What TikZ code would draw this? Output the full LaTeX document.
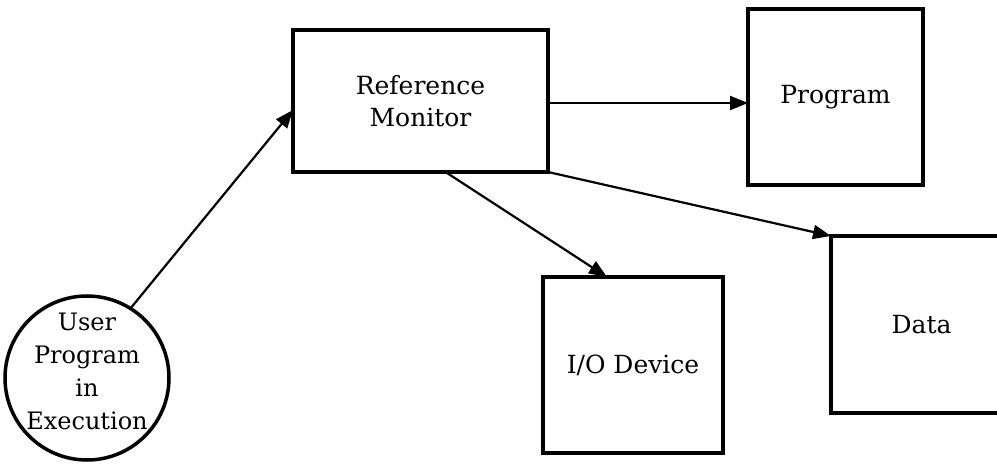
\documentclass[tikz,border=0pt]{standalone}
\usepackage{fontspec}
\setmainfont{DejaVu Serif}
\usetikzlibrary{arrows.meta}
\begin{document}
\begin{tikzpicture}[x=1pt,y=-1pt,
  box/.style={draw, line width=3.8pt, rectangle, inner sep=0pt, outer sep=0pt, align=center, font=\fontsize{25}{32}\selectfont},
  ucirc/.style={draw, circle, line width=3.5pt, inner sep=0pt, outer sep=0pt, minimum size=164pt, font=\fontsize{24}{33}\selectfont},
  arr/.style={line width=2.2pt, -{Triangle[length=18pt,width=14pt]}}]
\useasboundingbox (0,0) rectangle (997,465);
\clip (0,0) rectangle (997,465);
\node[box, minimum width=255pt, minimum height=142pt] (rm) at (420.5,101) {Reference\\Monitor};
\node[box, minimum width=175pt, minimum height=176pt] (prog) at (835.5,97) {Program};
\node[box, minimum width=180pt, minimum height=176pt] (io) at (633,365) {I/O Device};
\node[box, minimum width=181pt, minimum height=177pt] (data) at (921.5,324.5) {Data};
\node[ucirc] (u) at (87,378) {\smash{\makebox[0pt]{\raisebox{-2pt}{\begin{tabular}{@{}c@{}}User\\Program\\in\\Execution\end{tabular}}}}};
\draw[arr] (u.58) -- ([yshift=-9pt]rm.west);
\draw[arr] ([yshift=-2pt]rm.east) -- ([yshift=-2pt]rm.east -| prog.west);
\draw[arr] ([xshift=25pt]rm.south) -- ([xshift=-26pt]io.north);
\draw[arr] (rm.south east) -- (data.north west);
\end{tikzpicture}
\end{document}
